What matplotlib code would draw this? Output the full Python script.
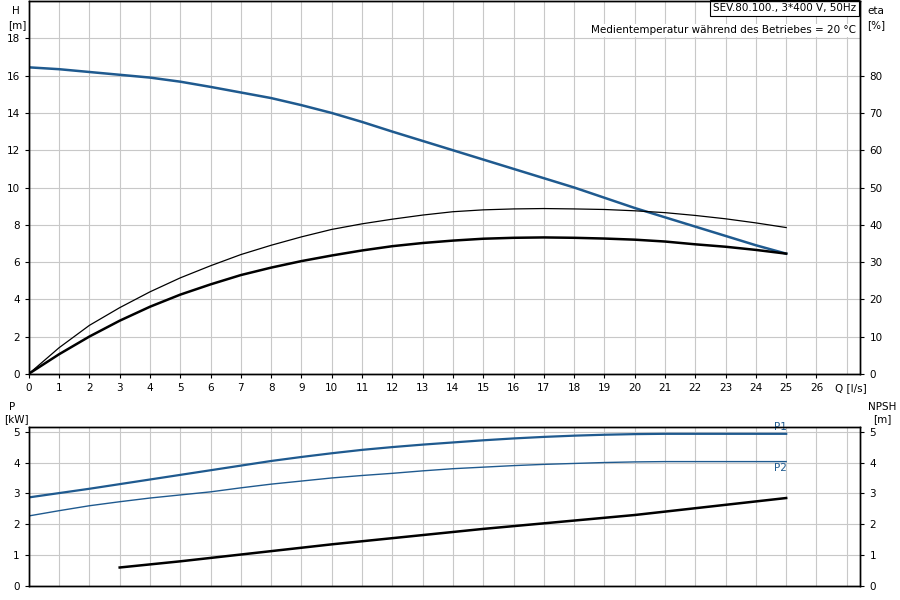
import matplotlib
matplotlib.use("Agg")
import matplotlib.pyplot as plt

q = [0, 1, 2, 3, 4, 5, 6, 7, 8, 9, 10, 11, 12, 13, 14, 15, 16, 17, 18, 19, 20, 21, 22, 23, 24, 25]
head = [16.45, 16.35, 16.2, 16.05, 15.9, 15.68, 15.4, 15.1, 14.8, 14.42, 14.0, 13.52, 13.0, 12.5, 12.0, 11.5, 11.0, 10.5, 10.0, 9.45, 8.9, 8.4, 7.9, 7.4, 6.9, 6.45]
eta_thin = [0, 1.4, 2.6, 3.55, 4.4, 5.15, 5.8, 6.4, 6.9, 7.35, 7.75, 8.05, 8.3, 8.52, 8.7, 8.8, 8.85, 8.87, 8.85, 8.82, 8.75, 8.65, 8.5, 8.32, 8.1, 7.85]
eta_thick = [0, 1.05, 2.0, 2.85, 3.6, 4.25, 4.8, 5.3, 5.7, 6.05, 6.35, 6.62, 6.85, 7.02, 7.15, 7.25, 7.3, 7.32, 7.3, 7.26, 7.2, 7.1, 6.95, 6.82, 6.65, 6.45]
p1 = [2.87, 3.01, 3.15, 3.3, 3.45, 3.6, 3.75, 3.9, 4.05, 4.18, 4.3, 4.41, 4.5, 4.58, 4.65, 4.72, 4.78, 4.83, 4.87, 4.9, 4.92, 4.93, 4.93, 4.93, 4.93, 4.93]
p2 = [2.27, 2.44, 2.6, 2.73, 2.85, 2.95, 3.05, 3.18, 3.3, 3.4, 3.5, 3.58, 3.65, 3.73, 3.8, 3.85, 3.9, 3.94, 3.97, 4.0, 4.02, 4.03, 4.03, 4.03, 4.03, 4.03]
q_npsh = [3, 5, 10, 15, 20, 25]
npsh = [0.6, 0.8, 1.35, 1.85, 2.3, 2.85]

blue = "#1f5a8f"
fs = 7.5
fig = plt.figure(figsize=(9, 6), dpi=100)
ax = fig.add_axes([0.032, 0.377, 0.924, 0.621])
ax.plot(q, head, color=blue, lw=1.8)
ax.plot(q, eta_thin, color="black", lw=0.9)
ax.plot(q, eta_thick, color="black", lw=1.8)
ax.set_xlim(0, 27.45)
ax.set_ylim(0, 20)
ax.set_xticks(range(0, 27))
ax.set_xticks(range(0, 28), minor=True)
ax.set_yticks(range(0, 19, 2))
ax.set_yticks(range(0, 21, 2), minor=True)
ax.grid(True, which="both", color="#c8c8c8", lw=0.8)
ax.tick_params(labelsize=fs, length=3)
ax.tick_params(which="minor", length=0)
ax2 = ax.twinx()
ax2.set_ylim(0, 100)
ax2.set_yticks(range(0, 81, 10))
ax2.tick_params(labelsize=fs, length=3)
fig.text(0.013, 0.99, "H", fontsize=fs, va="top")
fig.text(0.009, 0.967, "[m]", fontsize=fs, va="top")
fig.text(0.964, 0.99, "eta", fontsize=fs, va="top")
fig.text(0.964, 0.967, "[%]", fontsize=fs, va="top")
ax.text(26.6, -0.5, "Q [l/s]", fontsize=fs, va="top", ha="left")
ax.text(0.995, 0.995, "SEV.80.100., 3*400 V, 50Hz", transform=ax.transAxes, fontsize=fs,
        ha="right", va="top", bbox=dict(facecolor="white", edgecolor="black", lw=0.8, pad=2))
ax.text(0.995, 0.935, "Medientemperatur während des Betriebes = 20 °C", transform=ax.transAxes,
        fontsize=fs, ha="right", va="top", bbox=dict(facecolor="white", edgecolor="none", pad=1))

bx = fig.add_axes([0.032, 0.0233, 0.924, 0.265])
bx.plot(q, p1, color=blue, lw=1.6)
bx.plot(q, p2, color=blue, lw=1.0)
bx.plot(q_npsh, npsh, color="black", lw=1.8)
bx.text(24.6, p1[-1] + 0.05, "P1", color=blue, fontsize=fs, va="bottom")
bx.text(24.6, p2[-1] - 0.05, "P2", color=blue, fontsize=fs, va="top")
bx.set_xlim(0, 27.45)
bx.set_ylim(0, 5.15)
bx.set_xticks(range(0, 28))
bx.set_xticklabels([])
bx.set_yticks(range(0, 6))
bx.grid(True, color="#c8c8c8", lw=0.8)
bx.tick_params(labelsize=fs, length=3)
bx.tick_params(axis="x", length=0)
bx2 = bx.twinx()
bx2.set_ylim(0, 5.15)
bx2.set_yticks(range(0, 6))
bx2.tick_params(labelsize=fs, length=3)
fig.text(0.01, 0.33, "P", fontsize=fs, va="top")
fig.text(0.005, 0.31, "[kW]", fontsize=fs, va="top")
fig.text(0.964, 0.33, "NPSH", fontsize=fs, va="top")
fig.text(0.97, 0.31, "[m]", fontsize=fs, va="top")
for a in (ax, ax2, bx, bx2):
    for s in a.spines.values():
        s.set_linewidth(1.0)
fig.savefig("out.png", dpi=100)
